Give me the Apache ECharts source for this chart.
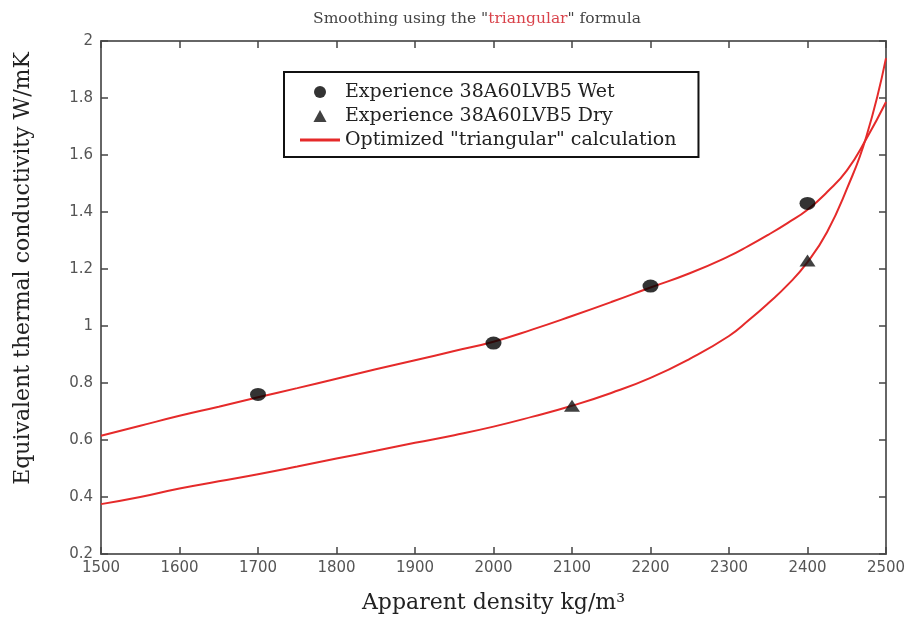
<!DOCTYPE html>
<html><head><meta charset="utf-8">
<script src="https://cdn.jsdelivr.net/npm/echarts@6/dist/echarts.min.js"></script>
<style>html,body{margin:0;padding:0;background:#fff}#c{width:912px;height:619px}</style>
</head><body><div id="c"></div>
<script>
const curveX = [1500,1550,1600,1650,1700,1750,1800,1850,1900,1950,2000,2050,2100,2150,2200,2250,2300,2325,2350,2375,2400,2425,2450,2475,2500];
const wetCurve = [0.615,0.65,0.685,0.717,0.75,0.782,0.815,0.848,0.88,0.912,0.945,0.988,1.035,1.084,1.135,1.185,1.245,1.281,1.32,1.362,1.408,1.47,1.545,1.657,1.786];
const dryCurve = [0.375,0.40,0.43,0.455,0.48,0.507,0.535,0.562,0.59,0.617,0.647,0.682,0.72,0.765,0.818,0.885,0.965,1.02,1.08,1.145,1.224,1.33,1.48,1.665,1.94];
const wetX = [1700,2000,2200,2400];
const wetY = [0.76,0.94,1.14,1.43];
const dryX = [2100,2400];
const dryY = [0.72,1.23];
const xTicks = [1500,1600,1700,1800,1900,2000,2100,2200,2300,2400,2500];
const yTicks = [0.2,0.4,0.6,0.8,1,1.2,1.4,1.6,1.8,2];

const zip = (a,b)=>a.map((v,i)=>[v,b[i]]);
const red = '#e52a2a';
const serif = '"DejaVu Serif",serif';
const sans = '"DejaVu Sans",sans-serif';

const chart = echarts.init(document.getElementById('c'));
const axisLine = {show:true, lineStyle:{color:'#666', width:2}};
const tick = {show:true, inside:true, length:7, lineStyle:{color:'#444',width:1.5}};
chart.setOption({
  animation:false,
  backgroundColor:'#fff',
  title:{
    text:'{a|Smoothing using the "}{b|triangular}{a|" formula}',
    left:472, textAlign:'center', top:6,
    textStyle:{fontWeight:'normal',rich:{
      a:{fontFamily:serif,fontSize:15.5,color:'#444',fontWeight:'normal'},
      b:{fontFamily:serif,fontSize:15.5,color:'#d9434b',fontWeight:'normal'}}}
  },
  legend:{
    orient:'vertical', left:284, top:72,
    borderColor:'#111', borderWidth:2, padding:[10,22,7,16],
    itemGap:4, itemWidth:40, itemHeight:12, symbolKeepAspect:true,
    textStyle:{fontFamily:serif,fontSize:19,color:'#222',lineHeight:20},
    data:[
      {name:'Experience 38A60LVB5 Wet', icon:'circle'},
      {name:'Experience 38A60LVB5 Dry', icon:'path://M6,0 L12,11 L0,11 Z'},
      {name:'Optimized "triangular" calculation', icon:'path://M0,0 L40,0 L40,3 L0,3 Z'}
    ]
  },
  grid:{left:101, right:26, top:41, bottom:62},
  xAxis:[{
    type:'value', min:1500, max:2500, interval:100,
    axisLine:axisLine, splitLine:{show:false}, axisTick:tick,
    axisLabel:{fontFamily:sans, fontSize:15, color:'#555', margin:7,
      formatter:v=>xTicks.includes(v)?String(v):''},
    name:'Apparent density kg/m³', nameLocation:'middle', nameGap:38,
    nameTextStyle:{fontFamily:serif, fontSize:22, color:'#222'}
  },{
    type:'value', min:1500, max:2500, interval:100, position:'top',
    axisLine:axisLine, splitLine:{show:false}, axisTick:tick,
    axisLabel:{show:false}
  }],
  yAxis:[{
    type:'value', min:0.2, max:2, interval:0.2,
    axisLine:axisLine, splitLine:{show:false}, axisTick:tick,
    axisLabel:{fontFamily:sans, fontSize:15, color:'#555', margin:8,
      formatter:v=>{const r=+v.toFixed(1); return yTicks.includes(r)?String(r):'';}},
    name:'Equivalent thermal conductivity W/mK', nameLocation:'middle', nameGap:67,
    nameTextStyle:{fontFamily:serif, fontSize:22, color:'#222', padding:[0,0,0,58]}
  },{
    type:'value', min:0.2, max:2, interval:0.2, position:'right',
    axisLine:axisLine, splitLine:{show:false}, axisTick:tick,
    axisLabel:{show:false}
  }],
  series:[
    {name:'Optimized "triangular" calculation', type:'line', smooth:0.5, showSymbol:false,
     data:zip(curveX,wetCurve), lineStyle:{color:red,width:2}, itemStyle:{color:red}, z:2},
    {name:'Optimized "triangular" calculation', type:'line', smooth:0.5, showSymbol:false,
     data:zip(curveX,dryCurve), lineStyle:{color:red,width:2}, itemStyle:{color:red}, z:2},
    {name:'Experience 38A60LVB5 Wet', type:'scatter', symbol:'circle', symbolSize:[16,13],
     data:zip(wetX,wetY), itemStyle:{color:'#000'}, z:3},
    {name:'Experience 38A60LVB5 Dry', type:'scatter', symbol:'triangle', symbolSize:[16,12],
     data:zip(dryX,dryY), itemStyle:{color:'#111'}, z:3}
  ]
});
</script></body></html>
